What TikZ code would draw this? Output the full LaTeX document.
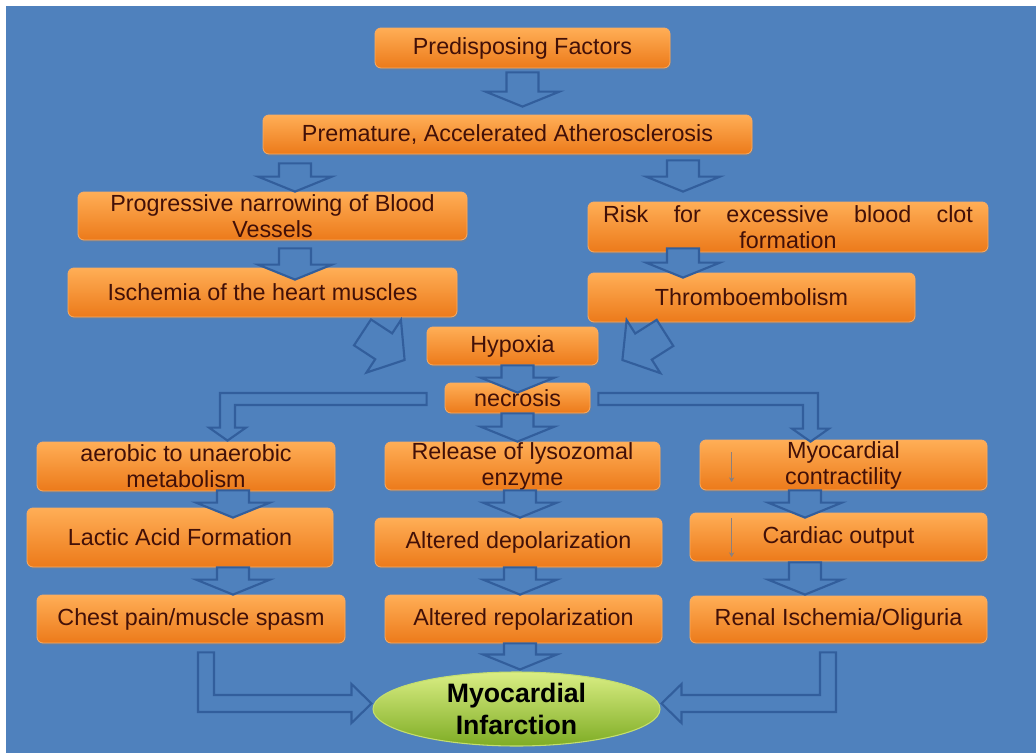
\documentclass[tikz,border=0pt]{standalone}
\usepackage{fontspec}
\setmainfont{Liberation Sans}
\usepackage{tikz}
\usetikzlibrary{arrows.meta, shapes.geometric, calc, shadows}

\definecolor{slide}{RGB}{79,129,189}
\definecolor{slideedge}{RGB}{50,94,156}
\definecolor{boxtop}{RGB}{255,174,86}
\definecolor{boxbot}{RGB}{236,122,26}
\definecolor{boxedge}{RGB}{250,172,98}
\definecolor{boxtext}{RGB}{66,16,8}
\definecolor{mitop}{RGB}{218,238,132}
\definecolor{mibot}{RGB}{126,172,36}
\definecolor{miedge}{RGB}{196,222,110}
\definecolor{hintgray}{RGB}{140,128,124}

% fat arrow: start, tip, shaft half width, head half width, head length
\newcommand{\fatarrow}[5]{%
  \coordinate (fa-s) at (#1);
  \coordinate (fa-t) at (#2);
  \coordinate (fa-h) at ($(fa-t)!#5!(fa-s)$);
  \draw[blockarr] ($(fa-s)!#3!90:(fa-t)$) -- ($(fa-h)!#3!90:(fa-t)$)
    -- ($(fa-h)!#4!90:(fa-t)$) -- (fa-t) -- ($(fa-h)!#4!-90:(fa-t)$)
    -- ($(fa-h)!#3!-90:(fa-t)$) -- ($(fa-s)!#3!-90:(fa-t)$) -- cycle;}
\newcommand{\vfat}[2]{\fatarrow{#1}{#2}{12pt}{27.75pt}{11.25pt}}

\begin{document}
\begin{tikzpicture}[
  x=0.75pt, y=-0.75pt,
  cause/.style={rectangle, rounded corners=4.5pt, draw=boxedge, line width=0.6pt,
                top color=boxtop, bottom color=boxbot, text=boxtext, align=center,
                inner xsep=4pt, inner ysep=0pt, font=\fontsize{17.5}{19.5}\selectfont,
                drop shadow={opacity=0.35, shadow xshift=0.8pt, shadow yshift=-1.6pt}},
  outcome/.style={ellipse, draw=miedge, line width=0.8pt, top color=mitop,
                  bottom color=mibot, align=center, inner sep=0pt,
                  font=\bfseries\fontsize{20}{23.5}\selectfont},
  wh/.style 2 args={minimum width=#1*0.75pt, minimum height=#2*0.75pt},
  blockarr/.style={draw=slideedge, fill=slide, line width=1.6pt, line join=miter},
  hint/.style={-{Stealth[length=3.5pt, width=4pt]}, draw=hintgray, line width=1pt},
]
\useasboundingbox (0,0) rectangle (1036,753);
\fill[white] (0,0) rectangle (1036,753);
\fill[slide] (6,6) rectangle (1036,753);

\node[cause, wh={295}{40}] (pf)  at (522.5,48)    {Predisposing Factors};
\node[cause, wh={489}{39}] (paa) at (507.5,134.5) {Premature, Accelerated Atherosclerosis};
\node[cause, wh={389}{48}] (pnb) at (272.5,216)   {Progressive narrowing of Blood\\Vessels};
\node[cause, wh={400}{50}] (rbc) at (788,227)
  {\makebox[277.5pt][s]{Risk for excessive blood clot}\\formation};
\node[cause, wh={389}{49}] (ihm) at (262.5,292.5) {Ischemia of the heart muscles};
\node[cause, wh={327}{49}] (thr) at (751.5,297.5) {Thromboembolism};
\node[cause, wh={171}{38}] (hyp) at (512.5,346)   {Hypoxia};
\node[cause, wh={145}{30}] (nec) at (517.5,398)   {necrosis};
\node[cause, wh={298}{49}] (aum) at (186,466.5)   {aerobic to unaerobic\\metabolism};
\node[cause, wh={275}{48}] (rle) at (522.5,466)   {Release of lysozomal\\enzyme};
\node[cause, wh={287}{50}] (mco) at (843.5,465)   {Myocardial\\contractility};
\node[cause, wh={306}{59}] (laf) at (180,537.5)   {Lactic Acid Formation};
\node[cause, wh={287}{49}] (ade) at (518.5,542.5) {Altered depolarization};
\node[cause, wh={297}{48}] (cao) at (838.5,537)   {Cardiac output};
\node[cause, wh={308}{48}] (cps) at (191,619)     {Chest pain/muscle spasm};
\node[cause, wh={277}{48}] (are) at (523.5,619)   {Altered repolarization};
\node[cause, wh={297}{47}] (rio) at (838.5,619.5) {Renal Ischemia/Oliguria};
\node[outcome, wh={287}{74}] (mi) at (516.5,709)  {Myocardial\\Infarction};

% little down arrows in the right column
\draw[hint] ($(mco.west)+(32,-13)$) -- ($(mco.west)+(32,17)$);
\draw[hint] ($(cao.west)+(42,-19)$) -- ($(cao.west)+(42,20)$);

% straight block arrows
\vfat{$(pf.south)+(0,4)$}{$(pf.south|-paa.north)+(0,-8)$}
\vfat{$(pnb.north|-paa.south)+(22.5,9)$}{$(pnb.north)+(22.5,0)$}
\vfat{$(rbc.north|-paa.south)+(-105,6)$}{$(rbc.north)+(-105,-10)$}
\vfat{$(pnb.south)+(22.5,8)$}{$(pnb.south|-ihm.north)+(22.5,12)$}
\vfat{$(rbc.south)+(-105,-4)$}{$(rbc.south|-thr.north)+(-105,5)$}
\fatarrow{$(ihm.south)+(100,15)$}{$(hyp.west)+(-22,14)$}{11.6pt}{23.6pt}{18.75pt}
\fatarrow{$(thr.south)+(-86.5,10.5)$}{$(hyp.east)+(24,14)$}{11.6pt}{23.6pt}{18.75pt}
\vfat{$(nec.north|-hyp.south)$}{$(nec.north)+(0,10)$}
\vfat{$(nec.south)$}{$(nec.south|-rle.north)$}
\vfat{$(aum.south)+(47,-1)$}{$(aum.south|-laf.north)+(47,10)$}
\vfat{$(laf.south)+(53,0)$}{$(laf.south|-cps.north)+(53,0)$}
\vfat{$(rle.south)+(-2.5,0)$}{$(rle.south|-ade.north)+(-2.5,0)$}
\vfat{$(ade.south)+(1.5,0)$}{$(ade.south|-are.north)+(1.5,0)$}
\vfat{$(mco.south)+(-38.5,0)$}{$(mco.south|-cao.north)+(-38.5,5)$}
\vfat{$(cao.south)+(-33.5,1)$}{$(cao.south|-rio.north)+(-33.5,-1)$}
\vfat{$(are.south)+(-3.5,0)$}{$(are.south|-mi.north)+(-3.5,-2)$}

% elbow arrows out of necrosis
\coordinate (nl) at ($(nec.west)+(-18,1)$);
\coordinate (tl) at ($(aum.north)+(41.5,-1)$);
\draw[blockarr] ($(nl)+(0,-6)$) -- ($(tl|-nl)+(-7.5,-6)$) -- ($(tl)+(-7.5,-13)$)
  -- ($(tl)+(-18.5,-13)$) -- (tl) -- ($(tl)+(18.5,-13)$) -- ($(tl)+(7.5,-13)$)
  -- ($(tl|-nl)+(7.5,6)$) -- ($(nl)+(0,6)$) -- cycle;
\coordinate (nr) at ($(nec.east)+(8,1)$);
\coordinate (tr) at ($(mco.north)+(-33,2)$);
\draw[blockarr] ($(nr)+(0,-6)$) -- ($(tr|-nr)+(7.5,-6)$) -- ($(tr)+(7.5,-13)$)
  -- ($(tr)+(18.5,-13)$) -- (tr) -- ($(tr)+(-18.5,-13)$) -- ($(tr)+(-7.5,-13)$)
  -- ($(tr|-nr)+(-7.5,6)$) -- ($(nr)+(0,6)$) -- cycle;

% elbow arrows into the infarction
\coordinate (bl) at ($(cps.south)+(15,9)$);
\coordinate (ml) at ($(mi.west)+(-1,-5.5)$);
\draw[blockarr] ($(bl)+(-8,0)$) -- ($(bl|-ml)+(-8,8.5)$) -- ($(ml)+(-20,8.5)$)
  -- ($(ml)+(-20,19.5)$) -- (ml) -- ($(ml)+(-20,-19.5)$) -- ($(ml)+(-20,-8.5)$)
  -- ($(bl|-ml)+(8,-8.5)$) -- ($(bl)+(8,0)$) -- cycle;
\coordinate (br) at ($(rio.south)+(-10.5,9)$);
\coordinate (mr) at ($(mi.east)+(1,-5.5)$);
\draw[blockarr] ($(br)+(8,0)$) -- ($(br|-mr)+(8,8.5)$) -- ($(mr)+(20,8.5)$)
  -- ($(mr)+(20,19.5)$) -- (mr) -- ($(mr)+(20,-19.5)$) -- ($(mr)+(20,-8.5)$)
  -- ($(br|-mr)+(-8,-8.5)$) -- ($(br)+(-8,0)$) -- cycle;
\end{tikzpicture}
\end{document}
